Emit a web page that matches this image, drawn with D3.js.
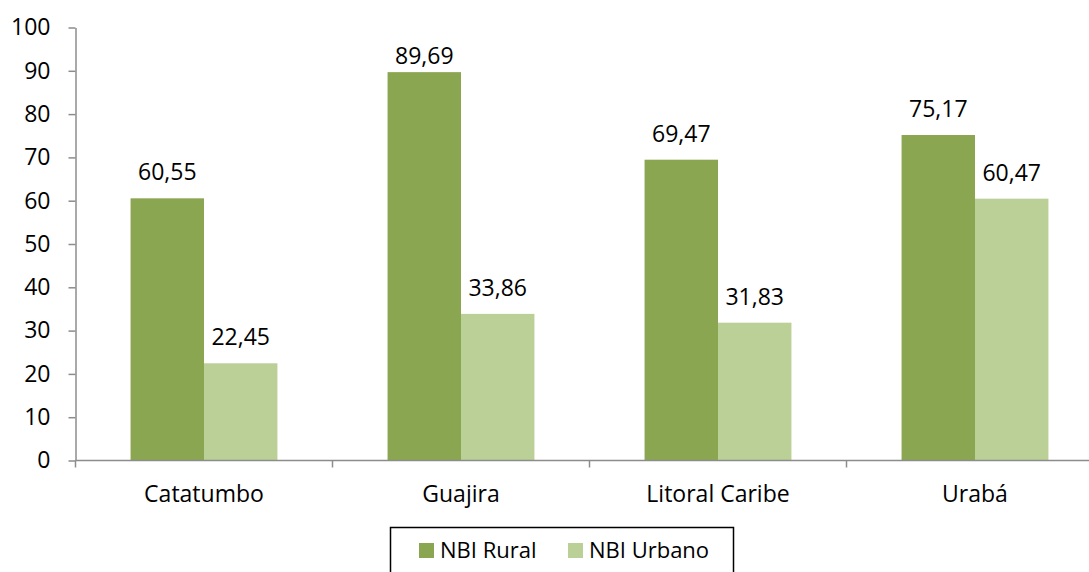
<!DOCTYPE html>
<html>
<head>
<meta charset="utf-8">
<script src="https://cdn.jsdelivr.net/npm/d3@7"></script>
<style>
  html, body { margin: 0; padding: 0; background: #fff; overflow: hidden; }
  svg { display: block; font-family: "Open Sans", "Liberation Sans", sans-serif; }
</style>
</head>
<body>
<svg id="chart" width="1089" height="572"></svg>
<script>
// Unmet basic needs (NBI) by region, rural vs urban
const categories = ["Catatumbo", "Guajira", "Litoral Caribe", "Urabá"];
const seriesNames = ["NBI Rural", "NBI Urbano"];
const rural = [60.55, 89.69, 69.47, 75.17];
const urbano = [22.45, 33.86, 31.83, 60.47];
const yTicks = [0, 10, 20, 30, 40, 50, 60, 70, 80, 90, 100];
const colors = ["#8ba650", "#bbd097"];

const seriesValues = [rural, urbano];
const svg = d3.select("#chart");
const FS = 23;

const plotLeft = 75.5, plotBottom = 460.5, plotTop = 27.5, catStep = 257;

const x0 = d3.scaleBand()
  .domain(categories)
  .range([plotLeft, plotLeft + catStep * categories.length])
  .paddingInner(0).paddingOuter(0);

const x1 = d3.scaleBand()
  .domain(seriesNames)
  .range([0, x0.bandwidth()])
  .paddingInner(0).paddingOuter(0.75);

const y = d3.scaleLinear().domain([0, 100]).range([plotBottom, plotTop]);

const fmt = v => d3.format(".2f")(v).replace(".", ",");

// Bars
const groups = svg.append("g").selectAll("g")
  .data(categories)
  .join("g")
  .attr("transform", d => `translate(${x0(d)},0)`);

groups.selectAll("rect")
  .data((d, i) => seriesNames.map((s, k) => ({ s, k, v: seriesValues[k][i] })))
  .join("rect")
  .attr("x", d => x1(d.s))
  .attr("width", x1.bandwidth())
  .attr("y", d => y(d.v))
  .attr("height", d => y(0) - y(d.v))
  .attr("fill", d => colors[d.k]);

// Value labels (kept below the top margin of the plot)
groups.selectAll("text.val")
  .data((d, i) => seriesNames.map((s, k) => ({ s, k, v: seriesValues[k][i] })))
  .join("text")
  .attr("class", "val")
  .attr("x", d => x1(d.s) + x1.bandwidth() / 2)
  .attr("y", d => Math.max(y(d.v) - 18, 63.5))
  .attr("text-anchor", "middle")
  .attr("font-size", FS)
  .attr("fill", "#000")
  .text(d => fmt(d.v));

// Y axis
const yAxis = d3.axisLeft(y).tickValues(yTicks).tickSize(7).tickPadding(18).tickSizeOuter(0);
const gy = svg.append("g").attr("transform", `translate(${plotLeft},0)`).call(yAxis);
gy.select(".domain").attr("stroke", "#8c8c8c").attr("stroke-width", 1.5);
gy.selectAll(".tick line").attr("stroke", "#8c8c8c").attr("stroke-width", 1.5);
gy.selectAll(".tick text").attr("font-size", FS).attr("fill", "#000")
  .attr("font-family", "'Open Sans', 'Liberation Sans', sans-serif");

// X axis line with boundary ticks
const gx = svg.append("g");
gx.append("line")
  .attr("x1", plotLeft).attr("x2", plotLeft + catStep * categories.length)
  .attr("y1", plotBottom).attr("y2", plotBottom)
  .attr("stroke", "#8c8c8c").attr("stroke-width", 1.5);
const bounds = categories.map(c => x0(c)).concat([x0(categories[categories.length - 1]) + catStep]);
gx.selectAll("line.tk")
  .data(bounds)
  .join("line")
  .attr("class", "tk")
  .attr("x1", d => d).attr("x2", d => d)
  .attr("y1", plotBottom).attr("y2", plotBottom + 7)
  .attr("stroke", "#8c8c8c").attr("stroke-width", 1.5);
gx.selectAll("text")
  .data(categories)
  .join("text")
  .attr("x", d => x0(d) + x0.bandwidth() / 2)
  .attr("y", 502)
  .attr("text-anchor", "middle")
  .attr("font-size", FS)
  .attr("fill", "#000")
  .text(d => d);

// Legend
const lg = svg.append("g");
lg.append("rect")
  .attr("x", 390.5).attr("y", 527.5)
  .attr("width", 343).attr("height", 60)
  .attr("fill", "none").attr("stroke", "#000").attr("stroke-width", 1.5);
const legendX = [419, 568];
const items = lg.selectAll("g.item")
  .data(seriesNames)
  .join("g")
  .attr("class", "item")
  .attr("transform", (d, i) => `translate(${legendX[i]},0)`);
items.append("rect")
  .attr("x", 0).attr("y", 543).attr("width", 15).attr("height", 15)
  .attr("fill", (d, i) => colors[i]);
items.append("text")
  .attr("x", 21).attr("y", 558)
  .attr("font-size", 22).attr("fill", "#000")
  .text(d => d);
</script>
</body>
</html>
